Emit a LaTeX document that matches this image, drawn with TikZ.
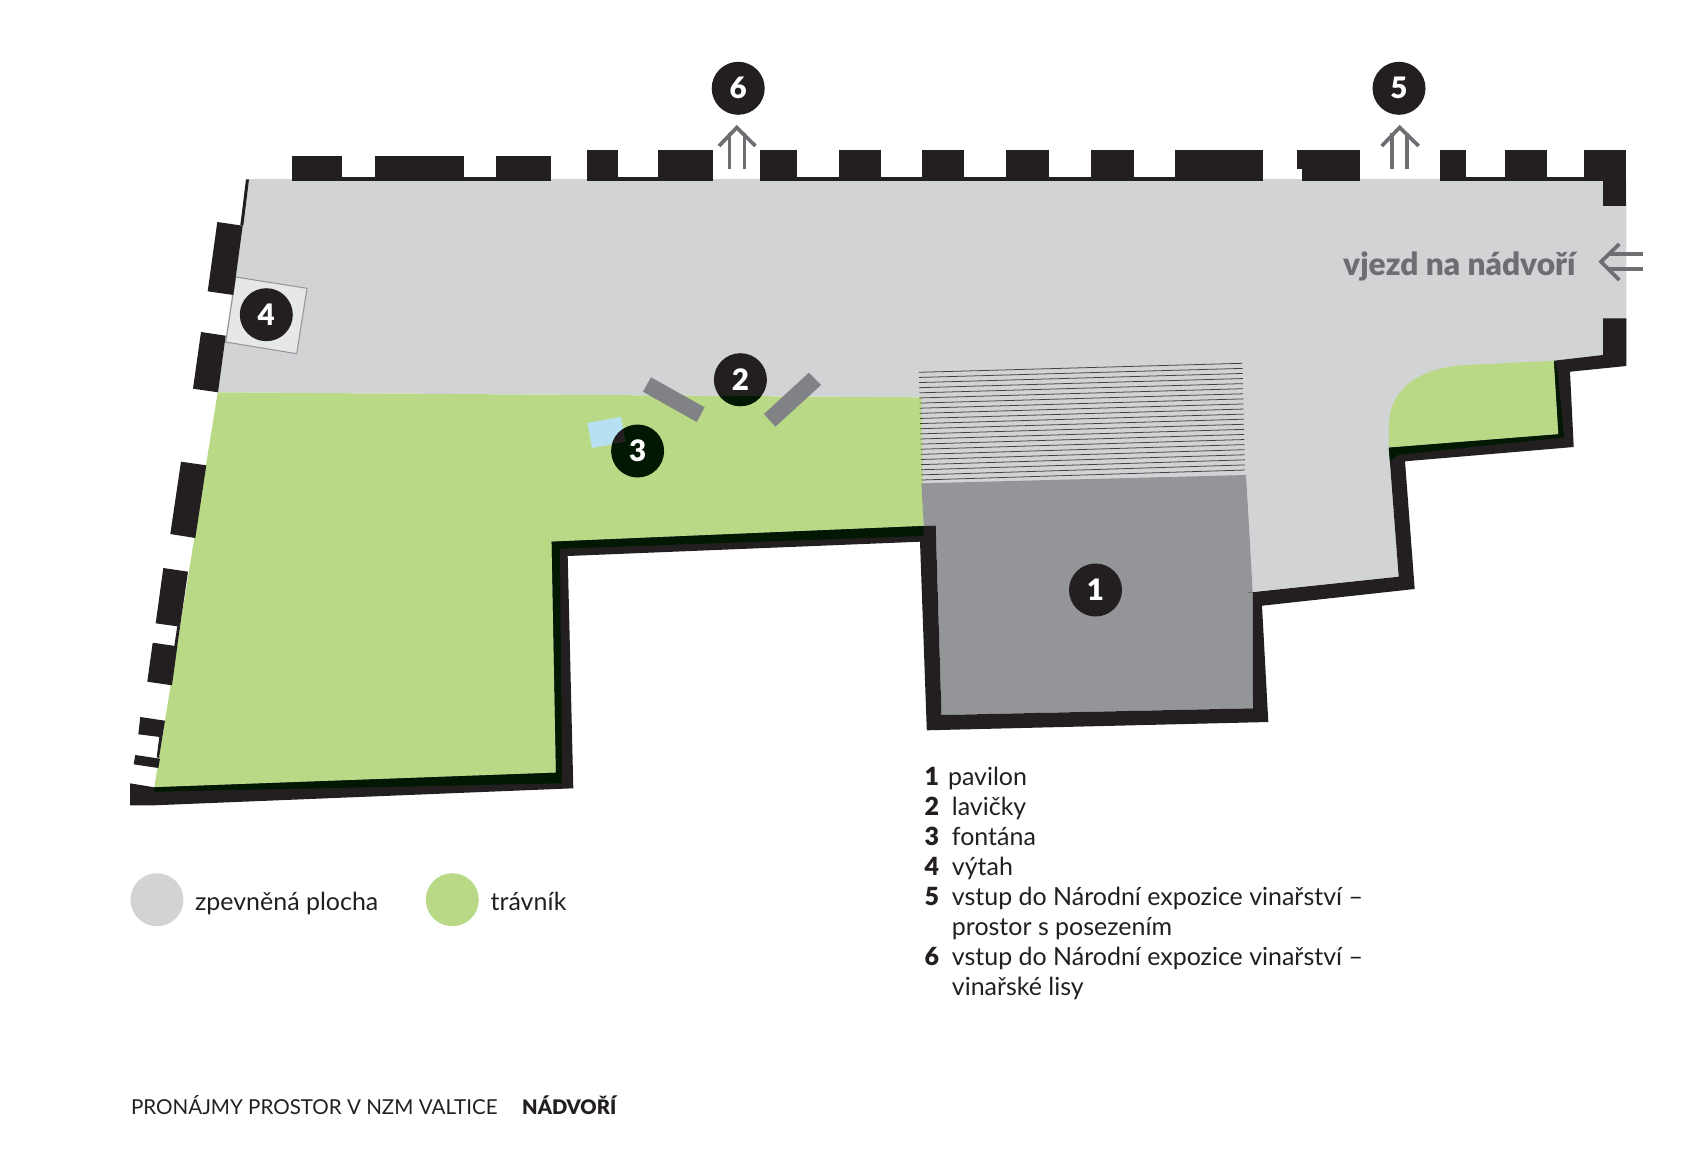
\documentclass[tikz,border=0pt]{standalone}
\usepackage{fontspec}
\setmainfont{Lato}
\newfontfamily\heavyfont{Lato Black}
\definecolor{wallblack}{HTML}{231F20}
\definecolor{paved}{HTML}{D1D3D4}
\definecolor{lawn}{HTML}{BAD987}
\definecolor{overprint}{HTML}{021802}
\definecolor{pavilion}{HTML}{939598}
\definecolor{bench}{HTML}{808285}
\definecolor{water}{HTML}{B7E1F3}
\definecolor{signgrey}{HTML}{6D6E71}
\definecolor{liftgrey}{HTML}{E6E7E8}
\tikzstyle{wall} = [fill=wallblack, draw=none]
\tikzstyle{marker} = [circle, fill=wallblack, text=white, inner sep=0pt, minimum size=53*0.01cm, font=\heavyfont\fontsize{8.4}{9}\selectfont]
\tikzstyle{signline} = [draw=signgrey, line width=1.05pt, line join=miter]
\tikzstyle{legtext} = [anchor=base west, inner sep=0pt, text=wallblack, font=\fontsize{7.1}{8.5}\selectfont]
\tikzstyle{legnum} = [legtext, font=\heavyfont\fontsize{7.1}{8.5}\selectfont]
\def\lawnpath{(217.7,392.3) -- (919,397.3) -- (921.4,396.7) -- (923.7,526) -- (551.7,541.7) -- (556,772.7) -- (154.3,787.3) -- cycle}
\def\fountainpath{(587.5,423) -- (621,416.7) -- (625.6,441.7) -- (592,448) -- cycle}
\def\wallpath{(130,783.3) -- (154.3,787.3) -- (556,772.7) -- (551.7,541.7) -- (923.7,526) -- (935.7,525.7) -- (941.5,715) -- (1253,708.3) -- (1252.7,591.7) -- (1247.3,592.7) -- (1398.7,576.7) -- (1388.8,447.7) -- (1558.5,434.3) -- (1554,360.7) -- (1603,355) -- (1603,318.3) -- (1626.3,318.3) -- (1626.3,366) -- (1570,371.7) -- (1573.7,447) -- (1405,461.3) -- (1414.7,589) -- (1262,605.7) -- (1268.3,722) -- (926.8,730.3) -- (920,541.7) -- (567.7,556) -- (573.3,788.3) -- (154.3,805.3) -- (130,805.3) -- cycle}
\begin{document}
\begin{tikzpicture}[x=0.01cm, y=-0.01cm]
        \useasboundingbox (0,0) rectangle (1706,1148);
        % areas
        \fill [paved] (248.7,179) -- (1626.3,179) -- (1626.3,360) -- (1554,360.7) -- (1558.5,434.3) -- (1388.8,447.7) -- (1398.7,576.7) -- (1252.7,591.7) -- (1245,480) -- (922,484) -- (919,397.3) -- (217.7,392.3) -- cycle;
        \fill [lawn] \lawnpath;
        \fill [lawn] (1554,360.7) -- (1558.5,434.3) -- (1388.8,447.7) -- (1388.8,426.7) .. controls (1388.8,385) and (1425,367) .. (1467,365) -- cycle;
        \fill [water] \fountainpath;
        % pavilion with steps
        \foreach \i in {0,...,21}
            \draw [wallblack!85, line width=0.22pt] ({918.8+2.6*\i/21},{372.3+107.7*\i/21}) -- ({1242.4+2.6*\i/21},{363.3+106.7*\i/21});
        \fill [pavilion] (921.4,483.3) -- (1246,475) -- (1252.7,591.7) -- (1253,708.3) -- (941.5,715) -- (935.7,526) -- (923.7,526) -- cycle;
        % lift
        \draw [fill=liftgrey, draw=pavilion, line width=0.3pt] (235.7,277) -- (307,288.3) -- (296.7,353.7) -- (225.7,342) -- cycle;
        % benches
        \fill [bench] (651,377.3) -- (704.6,407.3) -- (696.8,422) -- (642.9,391.7) -- cycle;
        \fill [bench] (808.9,372.7) -- (821,385) -- (775.4,426.7) -- (763.9,414) -- cycle;
        % walls
        \fill [wall] \wallpath;
        \foreach \a/\b in {292/341.7, 375/464, 496/551.3} 
            \fill [wall] (\a,156) rectangle (\b,181);
        \foreach \a/\b in {586.8/617.9, 657.9/712.5, 760.4/797.1, 838.9/881, 921.8/963.9, 1006.4/1048.6, 1091.4/1133.7, 1175/1262.7, 1302.3/1359.7, 1440/1466.3, 1505/1546.7, 1584.3/1626.3}
            \fill [wall] (\a,150.3) rectangle (\b,181.3);
        \fill [wall] (1296.7,150.3) rectangle (1303,169.3);
        \fill [wall] (1603,181) rectangle (1626.3,206);
        \foreach \a/\b in {292/551.3, 586.8/712.5, 760.4/1262.7, 1440/1626.3}
            \fill [wall] (\a,177.3) rectangle (\b,181.3);
        \fill [wall] (217.3,222) -- (242.7,225.7) -- (233.3,295) -- (207.7,291.3) -- cycle;
        \fill [wall] (246,179.3) -- (249,179.3) -- (243.3,225.7) -- (240.3,225.3) -- cycle;
        \fill [wall] (201,332) -- (225.7,335.7) -- (218,392.3) -- (193,388.7) -- cycle;
        \fill [wall] (181,461.7) -- (206.3,465.3) -- (195.3,538) -- (170.3,534) -- cycle;
        \fill [wall] (163.3,568) -- (188,571.7) -- (180,626.7) -- (155.7,623.3) -- cycle;
        \fill [wall] (177.3,626) -- (180,626.7) -- (177,648) -- (174.3,646) -- cycle;
        \fill [wall] (152.7,642.7) -- (177.3,646.3) -- (172,685.3) -- (147.3,681.7) -- cycle;
        \fill [wall] (140.3,717) -- (165,720.7) -- (162.3,737.3) -- (138.3,734.3) -- cycle;
        \fill [wall] (159.3,737) -- (162.3,737.3) -- (159,758) -- (156.7,757.3) -- cycle;
        \fill [wall] (135.3,755) -- (160,758.7) -- (158.3,768) -- (133.7,764.3) -- cycle;
        % overprinted wall edge
        \fill [overprint] (923.7,526) -- (551.7,541.7) -- (556,772.7) -- (154.3,787.3) -- (154,791.7) -- (562,783.3) -- (560,548.7) -- (923.7,536) -- cycle;
        \fill [overprint] (1554,360.7) -- (1558.5,434.3) -- (1388.8,447.7) -- (1390,461.7) -- (1397.8,455) -- (1564,437.3) -- (1557.5,370) -- cycle;
        % markers
        \node [marker] (pavilon) at (1095.5,590) {1};
        \fill [wallblack] (740.4,379.7) circle (26.5);
        \begin{scope}
            \clip \lawnpath;
            \fill [overprint] (740.4,379.7) circle (26.5);
            \fill [overprint] (637.6,451) circle (26.5);
        \end{scope}
        \begin{scope}
            \clip \fountainpath;
            \fill [wallblack] (637.6,451) circle (26.5);
        \end{scope}
        \node [marker, fill=none] (lavicky) at (740.4,379.7) {2};
        \node [marker, fill=none] (fontana) at (637.6,451) {3};
        \node [marker] (vytah) at (266.3,314.7) {4};
        \node [marker] (vstup5) at (1399,88.3) {5};
        \node [marker] (vstup6) at (738.2,88.3) {6};
        % arrows
        \path [signline] (719,146) -- (736.8,127.5) -- (755.4,146);
        \path [signline] (729.6,169.3) -- (729.6,133);
        \path [signline] (744.6,169.3) -- (744.6,133);
        \path [signline] (1381.7,146) -- (1399.7,127.5) -- (1418.7,146);
        \path [signline] (1392.3,169.3) -- (1392.3,133);
        \path [signline] (1407.3,169.3) -- (1407.3,133);
        \path [signline] (1619.3,244) -- (1601,261.7) -- (1619.3,280);
        \path [signline] (1642.7,254) -- (1609,254);
        \path [signline] (1642.7,269.3) -- (1609,269.3);
        \node [anchor=base west, inner sep=0pt, text=signgrey, font=\heavyfont\fontsize{9}{10}\selectfont] (vjezd) at (1342.5,275) {vjezd na nádvoří};
        % legend
        \fill [paved] (157,899.7) circle (26.5);
        \fill [lawn] (452.3,899.7) circle (26.5);
        \node [legtext] (zpevnena) at (194.4,910) {zpevněná plocha};
        \node [legtext] (travnik) at (490,910) {trávník};
        \foreach \n/\y in {1/785, 2/815, 3/845, 4/875, 5/905, 6/965}
            \node [legnum] (num\n) at (924,\y) {\n};
        \node [legtext] (leg1) at (947.3,785) {pavilon};
        \node [legtext] (leg2) at (951.2,815) {lavičky};
        \node [legtext] (leg3) at (951.2,845) {fontána};
        \node [legtext] (leg4) at (951.2,875) {výtah};
        \node [legtext] (leg5) at (951.2,905) {vstup do Národní expozice vinařství –};
        \node [legtext] (leg5b) at (951.2,935) {prostor s posezením};
        \node [legtext] (leg6) at (951.2,965) {vstup do Národní expozice vinařství –};
        \node [legtext] (leg6b) at (951.2,995) {vinařské lisy};
        % footer
        \node [legtext, font=\fontsize{5.85}{8}\selectfont] (footer) at (130.3,1114) {PRONÁJMY PROSTOR V NZM VALTICE};
        \node [legnum, font=\heavyfont\fontsize{5.7}{8}\selectfont] (nadvori) at (521.5,1114) {NÁDVOŘÍ};
    \end{tikzpicture}
\end{document}
